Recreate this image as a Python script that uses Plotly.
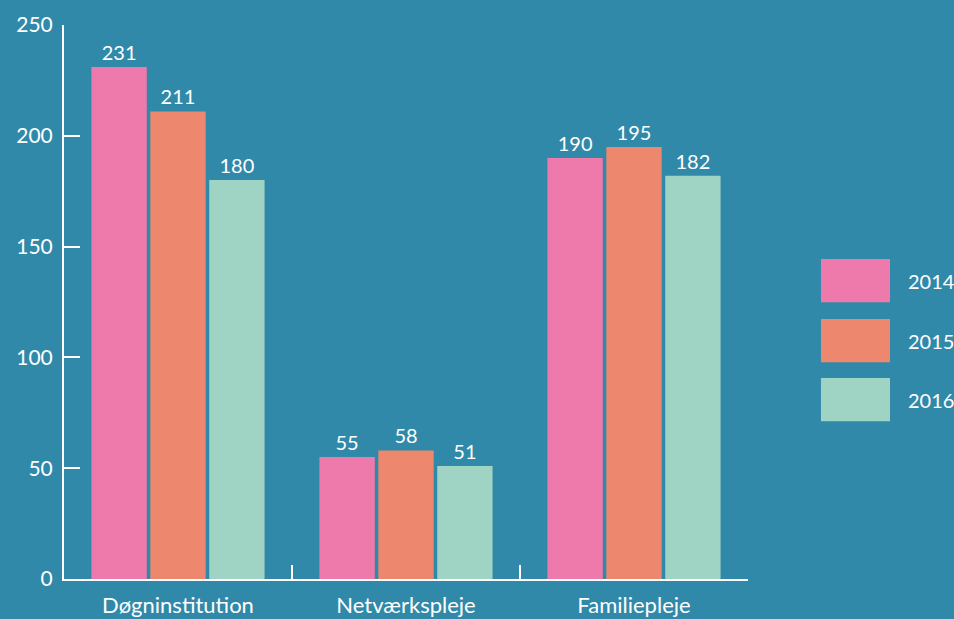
import plotly.graph_objects as go

categories = ["Døgninstitution", "Netværkspleje", "Familiepleje"]
years = ["2014", "2015", "2016"]
values_2014 = [231, 55, 190]
values_2015 = [211, 58, 195]
values_2016 = [180, 51, 182]
y_ticks = [0, 50, 100, 150, 200, 250]

series = [values_2014, values_2015, values_2016]
colors = ["#ee7aab", "#ed876d", "#9fd3c3"]
bg = "#3189aa"
font_family = "Lato, 'Open Sans', sans-serif"

fig = go.Figure()
for name, vals, col in zip(years, series, colors):
    fig.add_trace(go.Bar(
        x=categories, y=vals, name=name,
        marker=dict(color=col, line=dict(width=0)),
        text=[str(v) for v in vals], textposition="outside",
        textfont=dict(color="white", size=20, family=font_family),
        cliponaxis=False, showlegend=False,
    ))

# custom legend with large swatches
sw_x0, sw_x1 = 1.1067, 1.2076
tops = [0.5776, 0.4693, 0.3628]
h = 0.078
for name, col, top in zip(years, colors, tops):
    fig.add_shape(type="rect", xref="paper", yref="paper",
                  x0=sw_x0, x1=sw_x1, y0=top - h, y1=top,
                  fillcolor=col, line=dict(width=0), layer="above")
    fig.add_annotation(xref="paper", yref="paper", x=1.2310, y=top - h / 2,
                       text=name, showarrow=False, xanchor="left", yanchor="middle",
                       font=dict(color="white", size=20, family=font_family))

fig.update_layout(
    width=954, height=619,
    margin=dict(l=64, r=206, t=25, b=40),
    paper_bgcolor=bg, plot_bgcolor=bg,
    barmode="group", bargap=0.225, bargroupgap=0.06,
    font=dict(family=font_family, color="white", size=19),
)
fig.update_xaxes(
    range=[-0.5, 2.5], tickson="boundaries", ticks="inside", ticklen=14,
    tickwidth=2, tickcolor="white", showline=True, linecolor="white", linewidth=2,
    showgrid=False, zeroline=False, tickfont=dict(size=22, color="white"),
    ticklabelstandoff=6, automargin=False,
)
fig.update_yaxes(
    range=[0, 250], tickvals=y_ticks, ticks="inside", ticklen=16, tickwidth=2,
    tickcolor="white", showline=True, linecolor="white", linewidth=2,
    showgrid=False, zeroline=False, tickfont=dict(size=21, color="white"),
    ticklabelstandoff=5, automargin=False,
)

fig.write_html("out.html", config={"displayModeBar": False},
               post_script="document.body.style.margin='0';")
